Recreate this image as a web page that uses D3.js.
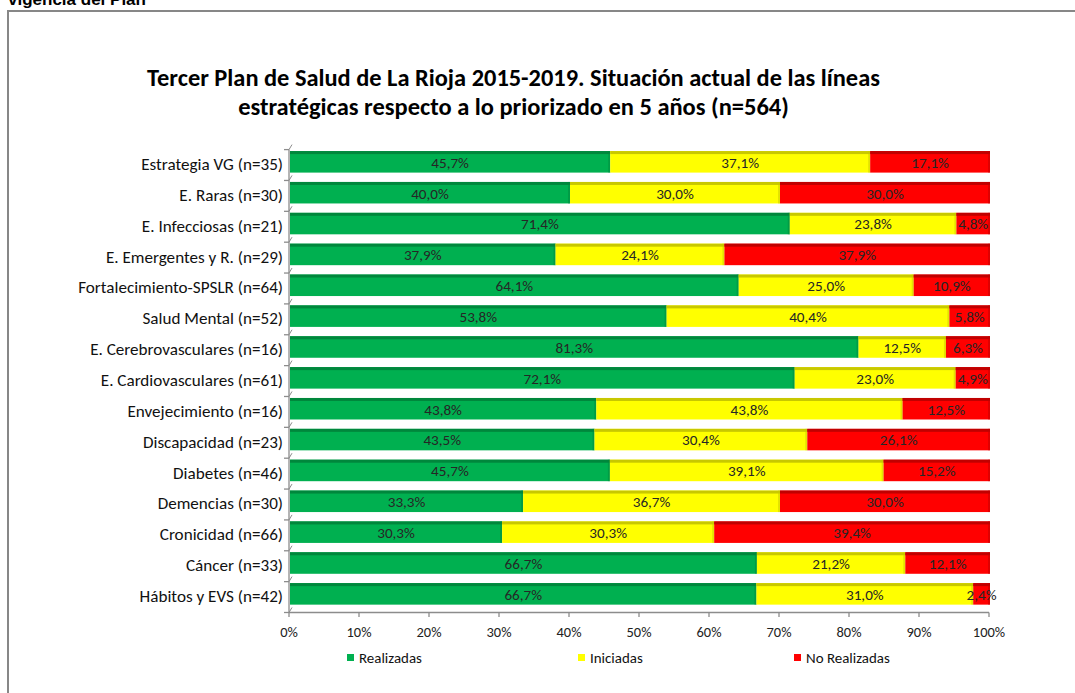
<!DOCTYPE html>
<html><head><meta charset="utf-8">
<script src="https://cdn.jsdelivr.net/npm/d3@7"></script>
<style>html,body{margin:0;padding:0;background:#fff;overflow:hidden}</style>
</head><body>
<svg id="c" width="1075" height="693"></svg>
<script>
const categories = ["Estrategia VG (n=35)","E. Raras  (n=30)","E. Infecciosas  (n=21)","E. Emergentes y R. (n=29)","Fortalecimiento-SPSLR (n=64)","Salud Mental (n=52)","E. Cerebrovasculares  (n=16)","E. Cardiovasculares (n=61)","Envejecimiento  (n=16)","Discapacidad (n=23)","Diabetes (n=46)","Demencias (n=30)","Cronicidad (n=66)","Cáncer (n=33)","Hábitos y EVS (n=42)"];
const realizadas   = [45.7,40.0,71.4,37.9,64.1,53.8,81.3,72.1,43.8,43.5,45.7,33.3,30.3,66.7,66.7];
const iniciadas    = [37.1,30.0,23.8,24.1,25.0,40.4,12.5,23.0,43.8,30.4,39.1,36.7,30.3,21.2,31.0];
const noRealizadas = [17.1,30.0,4.8,37.9,10.9,5.8,6.3,4.9,12.5,26.1,15.2,30.0,39.4,12.1,2.4];
const seriesNames = ["Realizadas","Iniciadas","No Realizadas"];
const tickValues = [0,0.1,0.2,0.3,0.4,0.5,0.6,0.7,0.8,0.9,1.0];
const titleLines = ["Tercer Plan de Salud de La Rioja 2015-2019. Situación actual de las líneas","estratégicas respecto a lo priorizado en 5 años (n=564)"];
const headerText = "vigencia del Plan";

const colors = ["#00B050","#FFFF00","#FF0000"];
const topColors = ["#00873C","#C8C800","#C00000"];
const FONT = "Carlito, Lato, 'Open Sans', sans-serif";

const svg = d3.select("#c");
// header (cut off at top)
svg.append("text").attr("x",8).attr("y",5).attr("font-family","'Liberation Sans',Arial,sans-serif")
  .attr("font-weight","bold").attr("font-size",17).attr("fill","#000").text(headerText);
// frame
svg.append("rect").attr("x",8).attr("y",11).attr("width",1100).attr("height",720)
  .attr("fill","none").attr("stroke","#878787").attr("stroke-width",2);

// measure helper: font size giving a target width for a sample string
function sizeFor(sample, width, weight){
  const t = svg.append("text").attr("font-family",FONT).attr("font-size",20).attr("font-weight",weight||"normal").text(sample);
  const w = t.node().getComputedTextLength();
  t.remove();
  return 20*width/w;
}
// title
const titleFs1 = sizeFor(titleLines[0],733,"bold");
const titleFs2 = sizeFor(titleLines[1],551,"bold");
svg.append("text").attr("x",513.5).attr("y",86).attr("text-anchor","middle")
  .attr("font-family",FONT).attr("font-weight","bold").attr("font-size",titleFs1).attr("fill","#000").text(titleLines[0]);
svg.append("text").attr("x",513.5).attr("y",115).attr("text-anchor","middle")
  .attr("font-family",FONT).attr("font-weight","bold").attr("font-size",titleFs2).attr("fill","#000").text(titleLines[1]);

const valueFs = sizeFor("45,7%",37.7);
const tickFs = sizeFor("10%",25);
const legendFs = sizeFor("Realizadas",63);
const catFs = sizeFor("Fortalecimiento-SPSLR (n=64)",205);

const x = d3.scaleLinear().domain([0,1]).range([289,989]);
const y = d3.scaleBand().domain(categories).range([149.6,612.5]).paddingInner(0).paddingOuter(0);

const rows = categories.map((c,i)=>({cat:c, Realizadas:realizadas[i], Iniciadas:iniciadas[i], "No Realizadas":noRealizadas[i]}));
const stack = d3.stack().keys(seriesNames).offset(d3.stackOffsetExpand);
const stacked = stack(rows);

// left axis wall
const axisColor = "#8c8c8c";
const g = svg.append("g");
g.append("line").attr("x1",289).attr("x2",289).attr("y1",149.6).attr("y2",612.5).attr("stroke",axisColor).attr("stroke-width",1.3);
const bounds = categories.map(c=>y(c)).concat([612.5]);
bounds.forEach(b=>{
  g.append("line").attr("x1",284).attr("x2",289).attr("y1",b).attr("y2",b).attr("stroke",axisColor).attr("stroke-width",1.3);
  g.append("line").attr("x1",289).attr("x2",292).attr("y1",b).attr("y2",b-5).attr("stroke",axisColor).attr("stroke-width",1);
});
// bottom axis
g.append("line").attr("x1",289).attr("x2",989).attr("y1",612.5).attr("y2",612.5).attr("stroke",axisColor).attr("stroke-width",1.3);
tickValues.forEach(v=>{
  g.append("line").attr("x1",x(v)).attr("x2",x(v)).attr("y1",612.5).attr("y2",617).attr("stroke",axisColor).attr("stroke-width",1.3);
  g.append("text").attr("x",x(v)).attr("y",632).attr("dy","0.35em").attr("text-anchor","middle").attr("font-family",FONT)
    .attr("font-size",tickFs).attr("fill","#222").text(Math.round(v*100)+"%");
});

// category labels
categories.forEach(c=>{
  svg.append("text").attr("x",283).attr("y",y(c)+y.bandwidth()/2-1).attr("dy","0.35em").attr("text-anchor","end")
    .attr("font-family",FONT).attr("font-size",catFs).attr("fill","#111").text(c);
});

// bars
const barTop = 1.5, barH = 21.5, stripH = 3;
stacked.forEach((s,si)=>{
  const sg = svg.append("g");
  s.forEach((d,i)=>{
    const yy = y(d.data.cat)+barTop;
    const x0 = x(d[0]), x1 = x(d[1]);
    sg.append("rect").attr("x",x0+1).attr("y",yy).attr("width",Math.max(0,x1-x0)).attr("height",barH).attr("fill",colors[si]);
    sg.append("rect").attr("x",x0+1).attr("y",yy).attr("width",Math.max(0,x1-x0)).attr("height",stripH).attr("fill",topColors[si]);
    sg.append("rect").attr("x",x1-1).attr("y",yy).attr("width",2).attr("height",barH).attr("fill",topColors[si]).attr("opacity",0.5);
  });
});
// value labels
stacked.forEach((s,si)=>{
  s.forEach((d,i)=>{
    const v = d.data[s.key];
    const cx = (x(d[0])+x(d[1]))/2+1;
    svg.append("text").attr("x",cx).attr("y",y(d.data.cat)+barTop+barH/2+0.5).attr("dy","0.35em")
      .attr("text-anchor","middle").attr("font-family",FONT).attr("font-size",valueFs).attr("fill","#262626")
      .text(v.toFixed(1).replace(".",",")+"%");
  });
});

// legend
const legendX = [347,578,794];
seriesNames.forEach((n,i)=>{
  svg.append("rect").attr("x",legendX[i]).attr("y",654).attr("width",7).attr("height",7).attr("fill",colors[i]);
  svg.append("text").attr("x",legendX[i]+12).attr("y",657.5).attr("dy","0.35em").attr("font-family",FONT)
    .attr("font-size",legendFs).attr("fill","#111").text(n);
});
</script>
</body></html>
